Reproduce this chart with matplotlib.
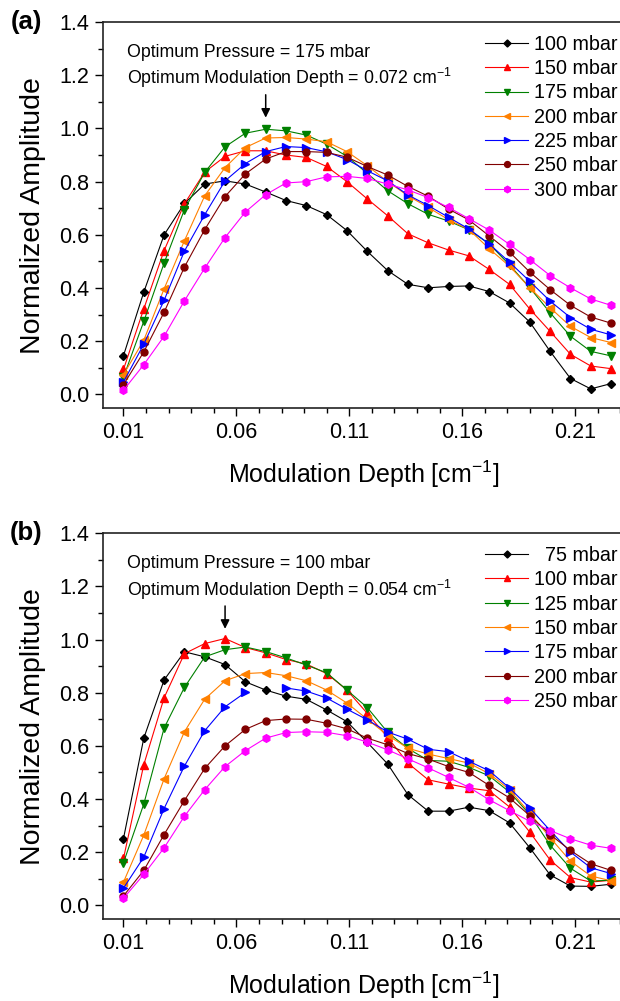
import numpy as np
import matplotlib
matplotlib.use('Agg')
from matplotlib import pyplot as plt
from matplotlib.ticker import MultipleLocator, FixedLocator

plt.rcParams['font.family'] = ['Liberation Sans', 'DejaVu Sans']
plt.rcParams['mathtext.fontset'] = 'custom'
plt.rcParams['mathtext.rm'] = 'Liberation Sans'
plt.rcParams['mathtext.default'] = 'regular'

# modulation depth [cm-1], 25 steps
depth = [0.010, 0.019, 0.028, 0.037, 0.046, 0.055, 0.064, 0.073, 0.082, 0.091,
         0.100, 0.109, 0.118, 0.127, 0.136, 0.145, 0.154, 0.163, 0.172, 0.181,
         0.190, 0.199, 0.208, 0.217, 0.226]

# panel (a)
labels_a = ['100 mbar', '150 mbar', '175 mbar', '200 mbar', '225 mbar', '250 mbar', '300 mbar']
p100_a = [0.146, 0.385, 0.600, 0.718, 0.791, 0.803, 0.791, 0.761, 0.729, 0.710, 0.676, 0.616, 0.538,
          0.466, 0.414, 0.401, 0.406, 0.408, 0.387, 0.344, 0.272, 0.162, 0.060, 0.021, 0.041]
p150_a = [0.094, 0.322, 0.541, 0.717, 0.836, 0.895, 0.916, 0.916, 0.900, 0.891, 0.857, 0.800, 0.735,
          0.672, 0.604, 0.570, 0.543, 0.521, 0.470, 0.414, 0.321, 0.237, 0.151, 0.107, 0.097]
p175_a = [0.065, 0.275, 0.494, 0.695, 0.835, 0.931, 0.982, 0.997, 0.991, 0.975, 0.941, 0.895, 0.831,
          0.766, 0.717, 0.677, 0.652, 0.619, 0.566, 0.487, 0.401, 0.307, 0.219, 0.162, 0.145]
p200_a = [0.075, 0.204, 0.397, 0.578, 0.747, 0.853, 0.928, 0.964, 0.966, 0.960, 0.950, 0.913, 0.860,
          0.800, 0.747, 0.703, 0.657, 0.620, 0.548, 0.482, 0.401, 0.326, 0.256, 0.214, 0.195]
p225_a = [0.047, 0.189, 0.354, 0.539, 0.676, 0.803, 0.868, 0.913, 0.932, 0.928, 0.912, 0.883, 0.841,
          0.803, 0.750, 0.710, 0.666, 0.622, 0.566, 0.497, 0.425, 0.351, 0.289, 0.245, 0.224]
p250_a = [0.037, 0.160, 0.309, 0.479, 0.620, 0.744, 0.829, 0.885, 0.913, 0.913, 0.910, 0.892, 0.857,
          0.825, 0.782, 0.745, 0.697, 0.656, 0.596, 0.535, 0.460, 0.394, 0.335, 0.291, 0.268]
p300_a = [0.016, 0.112, 0.219, 0.352, 0.475, 0.590, 0.686, 0.751, 0.795, 0.800, 0.818, 0.820, 0.812,
          0.791, 0.769, 0.740, 0.703, 0.661, 0.618, 0.564, 0.507, 0.447, 0.401, 0.359, 0.335]

# panel (b)
labels_b = ['  75 mbar', '100 mbar', '125 mbar', '150 mbar', '175 mbar', '200 mbar', '250 mbar']
p75_b = [0.251, 0.629, 0.848, 0.954, 0.935, 0.906, 0.841, 0.810, 0.787, 0.775, 0.735, 0.691, 0.613,
         0.532, 0.416, 0.354, 0.354, 0.369, 0.356, 0.310, 0.216, 0.114, 0.072, 0.071, 0.079]
p100_b = [0.176, 0.529, 0.781, 0.947, 0.985, 1.004, 0.970, 0.950, 0.925, 0.908, 0.872, 0.810, 0.722,
          0.632, 0.535, 0.472, 0.456, 0.441, 0.431, 0.370, 0.275, 0.170, 0.104, 0.087, 0.094]
p125_b = [0.160, 0.381, 0.667, 0.820, 0.935, 0.962, 0.972, 0.955, 0.931, 0.904, 0.875, 0.810, 0.744,
          0.651, 0.590, 0.545, 0.542, 0.519, 0.487, 0.426, 0.341, 0.226, 0.139, 0.091, 0.094]
p150_b = [0.087, 0.264, 0.476, 0.653, 0.776, 0.845, 0.872, 0.876, 0.864, 0.845, 0.810, 0.761, 0.700,
          0.640, 0.591, 0.569, 0.552, 0.535, 0.495, 0.435, 0.347, 0.254, 0.166, 0.110, 0.092]
p175_b = [0.064, 0.181, 0.364, 0.524, 0.657, 0.747, 0.801, np.nan, 0.818, 0.806, 0.780, 0.738, 0.698,
          0.652, 0.625, 0.587, 0.578, 0.542, 0.506, 0.441, 0.366, 0.281, 0.200, 0.141, 0.119]
p200_b = [0.035, 0.131, 0.266, 0.394, 0.515, 0.600, 0.662, 0.695, 0.701, 0.700, 0.685, 0.664, 0.629,
          0.604, 0.571, 0.550, 0.522, 0.500, 0.451, 0.404, 0.337, 0.266, 0.206, 0.156, 0.131]
p250_b = [0.026, 0.116, 0.216, 0.335, 0.435, 0.522, 0.582, 0.629, 0.650, 0.653, 0.651, 0.638, 0.614,
          0.585, 0.551, 0.517, 0.481, 0.444, 0.397, 0.356, 0.316, 0.281, 0.250, 0.226, 0.214]

colors = ['#000000', '#ff0000', '#008000', '#ff8000', '#0000ff', '#800000', '#ff00ff']
markers = ['D', '^', 'v', '<', '>', 'o', 'h']
msizes = [4.2, 5.5, 5.5, 5.5, 5.5, 5.0, 5.5]


def panel(ax, series, labels, pres, opt, arrow_x):
    for y, lab, c, m, ms in zip(series, labels, colors, markers, msizes):
        ax.plot(depth, y, color=c, marker=m, ms=ms, lw=0.8, mec=c, label=lab)
    ax.set_xlim(0.00092, 0.232)
    ax.set_ylim(-0.052, 1.4)
    ax.xaxis.set_major_locator(FixedLocator([0.01, 0.06, 0.11, 0.16, 0.21]))
    ax.xaxis.set_minor_locator(MultipleLocator(0.01))
    ax.yaxis.set_major_locator(MultipleLocator(0.2))
    ax.yaxis.set_minor_locator(MultipleLocator(0.1))
    ax.set_xticklabels(['0.01', '0.06', '0.11', '0.16', '0.21'])
    ax.tick_params(which='major', direction='out', length=6, width=1, labelsize=15.5, pad=4)
    ax.tick_params(which='minor', direction='out', length=3.5, width=1)
    for s in ax.spines.values():
        s.set_linewidth(1.2)
        s.set_color('#222222')
    ax.set_xlabel(r'Modulation Depth [cm$^{-1}$]', fontsize=18, labelpad=11)
    ax.set_ylabel('Normalized Amplitude', fontsize=20.5, labelpad=9)
    ax.text(0.0466, 0.921, 'Optimum Pressure = ' + pres, transform=ax.transAxes,
            fontsize=12.8, va='center')
    ax.text(0.0466, 0.854, 'Optimum Modulation Depth = ' + opt + r' cm$^{-1}$',
            transform=ax.transAxes, fontsize=12.8, va='center')
    ax.annotate('', xy=(arrow_x, 1.03), xytext=(arrow_x, 1.137),
                arrowprops=dict(arrowstyle='-|>', color='k', lw=1.1, mutation_scale=13))
    ax.legend(loc='upper left', bbox_to_anchor=(0.732, 0.967), frameon=False, fontsize=14.2,
              handlelength=2.2, handletextpad=0.3, labelspacing=0.27, borderpad=0,
              borderaxespad=0, numpoints=1, markerscale=0.85)


fig = plt.figure(figsize=(6.2, 10.01), dpi=100)
ax1 = fig.add_axes([0.1661, 0.5921, 0.8414, 0.3859])
ax2 = fig.add_axes([0.1661, 0.0819, 0.8414, 0.3853])

panel(ax1, [p100_a, p150_a, p175_a, p200_a, p225_a, p250_a, p300_a], labels_a,
      '175 mbar', '0.072', 0.073)
panel(ax2, [p75_b, p100_b, p125_b, p150_b, p175_b, p200_b, p250_b], labels_b,
      '100 mbar', '0.054', 0.055)

fig.text(0.042, 1 - 22 / 1001, '(a)', fontsize=18.5, weight='bold', ha='center', va='center')
fig.text(0.042, 1 - 533 / 1001, '(b)', fontsize=18.5, weight='bold', ha='center', va='center')

plt.savefig('out.png', dpi=100)
plt.close()
